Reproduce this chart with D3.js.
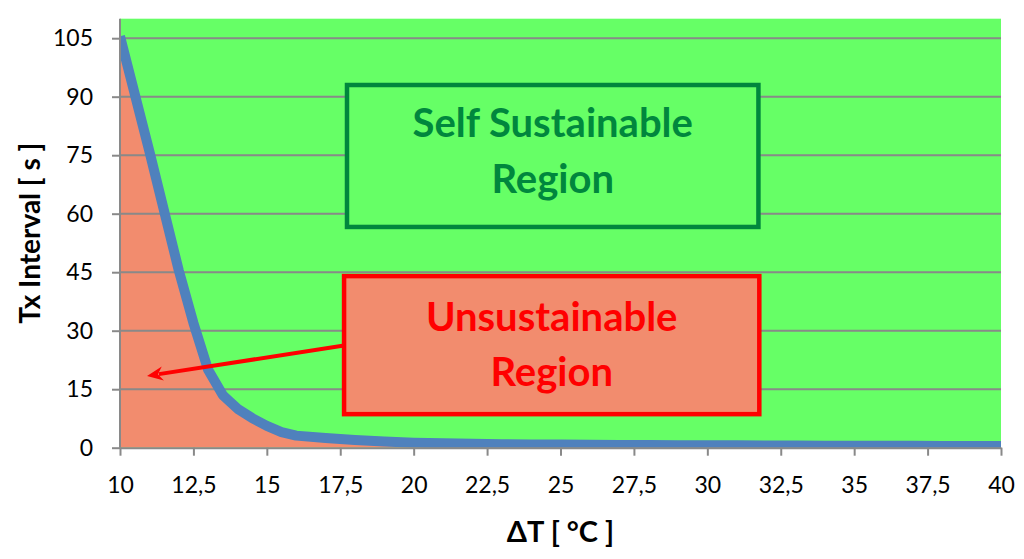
<!DOCTYPE html>
<html><head><meta charset="utf-8">
<script src="https://cdn.jsdelivr.net/npm/d3@7"></script>
<style>
html,body{margin:0;padding:0;background:#fff;}
svg{display:block;font-family:Lato,"Open Sans",sans-serif;}
</style></head>
<body><svg id="chart" width="1024" height="559"></svg>
<script>
// Data
const deltaT = [10,11,12,12.5,13,13.5,14,14.5,15,15.5,16,17,18,19,20,21,22,23,24,25,26,27,28,29,30,31,32,33,34,35,36,37,38,39,40];
const txInterval = [105.5,76,45.5,32,20,13.5,10,7.6,5.6,4.0,3.1,2.5,2.0,1.6,1.3,1.15,1.0,0.9,0.85,0.8,0.76,0.72,0.68,0.65,0.62,0.6,0.57,0.55,0.53,0.51,0.49,0.48,0.46,0.45,0.44];
const xTicks = [10,12.5,15,17.5,20,22.5,25,27.5,30,32.5,35,37.5,40];
const yTicks = [0,15,30,45,60,75,90,105];
const xDomain = [10,40];
const yDomain = [0,110];
const labels = {x:"ΔT [ °C ]", y:"Tx Interval [ s ]"};
// annotation boxes in data coordinates
const selfBox = {x0:17.73, x1:31.74, y0:93.0, y1:56.6, lines:["Self Sustainable","Region"], dy:[-19,37]};
const unsBox = {x0:17.63, x1:31.77, y0:44.0, y1:8.6, lines:["Unsustainable","Region"], dy:[-14,41]};
const arrowFrom = [17.63, 26.2], arrowTo = [10.92, 18.4];

const C = {green:"#66FF66", salmon:"#F28C6E", blue:"#4F81BD", grid:"#898989", dkgreen:"#00873D", red:"#FF0000"};

const svg = d3.select("#chart");
const L=120, R=1001, T=18.7, B=447.7;
const x = d3.scaleLinear(xDomain,[L,R]);
const y = d3.scaleLinear(yDomain,[B,T]);

svg.append("defs").append("clipPath").attr("id","clip")
  .append("rect").attr("x",L).attr("y",T).attr("width",R-L).attr("height",B-T);

svg.append("rect").attr("x",L).attr("y",T).attr("width",R-L).attr("height",B-T).attr("fill",C.green);

const pts = deltaT.map((d,i)=>[d,txInterval[i]]);
svg.append("path").datum(pts).attr("clip-path","url(#clip)")
  .attr("fill",C.salmon)
  .attr("d",d3.area().x(d=>x(d[0])).y0(y(0)).y1(d=>y(d[1])));

// gridlines
svg.append("g").selectAll("line").data(yTicks.filter(v=>v>0)).join("line")
  .attr("x1",L).attr("x2",R).attr("y1",d=>y(d)).attr("y2",d=>y(d))
  .attr("stroke",C.grid).attr("stroke-width",2);

// curve
svg.append("path").datum(pts).attr("clip-path","url(#clip)")
  .attr("fill","none").attr("stroke",C.blue).attr("stroke-width",10)
  .attr("stroke-linejoin","round")
  .attr("d",d3.line().x(d=>x(d[0])).y(d=>y(d[1])));

// axes
const fmt = d => String(d).replace(".",",");
const xa = svg.append("g").attr("transform",`translate(0,${B})`)
  .call(d3.axisBottom(x).tickValues(xTicks).tickFormat(fmt).tickSize(8).tickSizeOuter(0).tickPadding(21));
const ya = svg.append("g").attr("transform",`translate(${L},0)`)
  .call(d3.axisLeft(y).tickValues(yTicks).tickSize(8).tickSizeOuter(0).tickPadding(19));
[xa,ya].forEach(g=>{
  g.select(".domain").attr("stroke",C.grid).attr("stroke-width",2);
  g.selectAll(".tick line").attr("stroke",C.grid).attr("stroke-width",2);
  g.selectAll("text").attr("font-family","Lato, sans-serif").attr("font-size",23).attr("fill","#000");
});
ya.select(".domain").attr("d",`M0,${T}V${B}`);

// axis titles
svg.append("text").attr("x",(L+R)/2).attr("y",542).attr("text-anchor","middle")
  .attr("font-weight","bold").attr("font-size",29).text(labels.x);
svg.append("text").attr("transform",`translate(40,${(T+B)/2}) rotate(-90)`).attr("text-anchor","middle")
  .attr("font-weight","bold").attr("font-size",28).text(labels.y);

// boxes
function box(b, fill, stroke){
  const g = svg.append("g");
  g.append("rect").attr("x",x(b.x0)).attr("y",y(b.y0)).attr("width",x(b.x1)-x(b.x0)).attr("height",y(b.y1)-y(b.y0))
    .attr("fill",fill).attr("stroke",stroke).attr("stroke-width",4.5);
  const cx=(x(b.x0)+x(b.x1))/2, cy=(y(b.y0)+y(b.y1))/2;
  g.selectAll("text").data(b.lines).join("text")
    .attr("x",cx).attr("y",(d,i)=>cy+b.dy[i])
    .attr("text-anchor","middle").attr("font-weight","bold").attr("font-size",40)
    .attr("fill",stroke).text(d=>d);
}
box(selfBox, C.green, C.dkgreen);
box(unsBox, C.salmon, C.red);

// arrow
const ax0=x(arrowFrom[0]), ay0=y(arrowFrom[1]), ax1=x(arrowTo[0]), ay1=y(arrowTo[1]);
const ang = Math.atan2(ay1-ay0, ax1-ax0);
const hl=16, hw=7;
const bx = ax1 - hl*Math.cos(ang), by = ay1 - hl*Math.sin(ang);
svg.append("line").attr("x1",ax0).attr("y1",ay0).attr("x2",bx+4*Math.cos(ang)).attr("y2",by+4*Math.sin(ang))
  .attr("stroke",C.red).attr("stroke-width",4);
const px=-Math.sin(ang), py=Math.cos(ang);
svg.append("path").attr("fill",C.red)
  .attr("d",`M${ax1},${ay1}L${bx+hw*px},${by+hw*py}L${bx+5*Math.cos(ang)},${by+5*Math.sin(ang)}L${bx-hw*px},${by-hw*py}Z`);
</script></body></html>
